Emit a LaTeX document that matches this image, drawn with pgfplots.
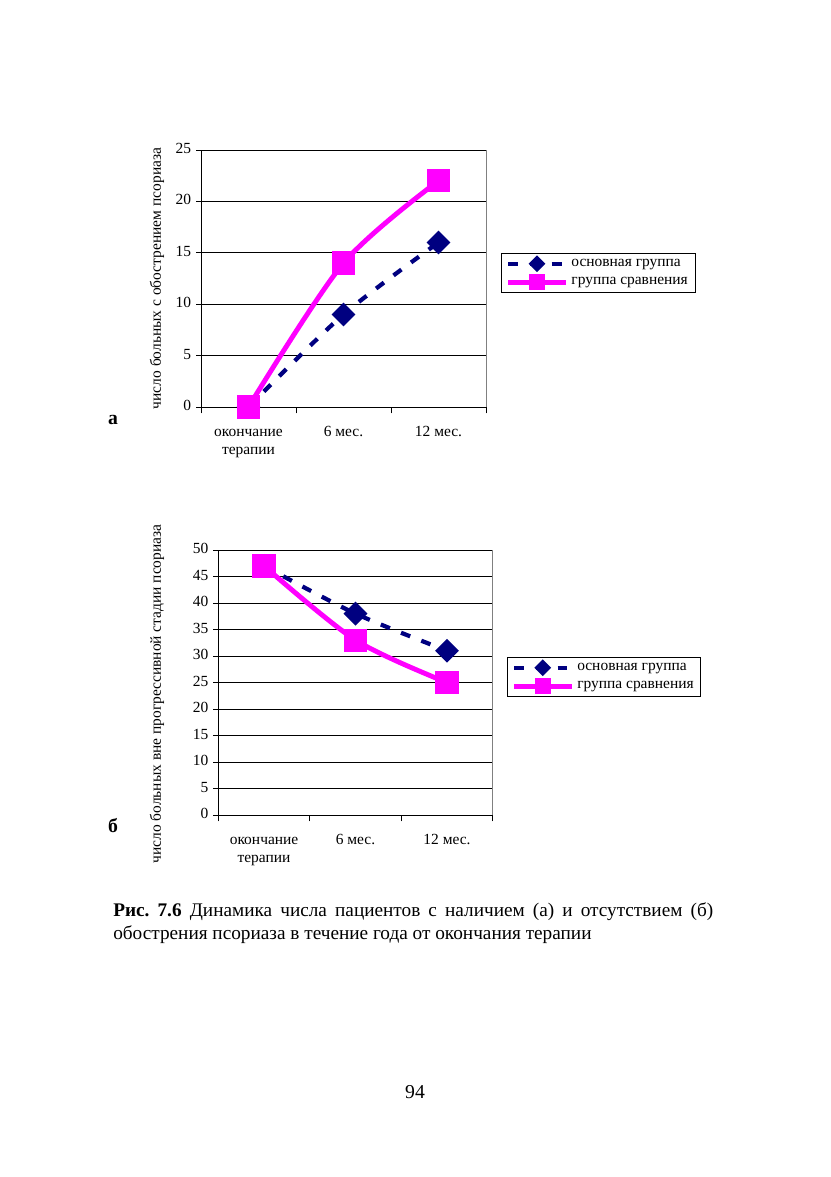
\documentclass[border=0pt]{standalone}
\usepackage{pgfplots}
\pgfplotsset{compat=1.18}
\usepackage{fontspec}
\setmainfont{Liberation Serif}

\definecolor{navyline}{HTML}{000080}
\definecolor{pinkline}{HTML}{FF00FF}

\newcommand{\chartfont}{\fontsize{11}{12.8}\selectfont}

% одинаковое оформление обоих графиков
\pgfplotsset{
  psor/.style={
    scale only axis,
    clip=false,
    xmin=0.5, xmax=3.5,
    ymin=0,
    axis lines=left,
    axis line style={-, black, line width=0.6pt},
    tick align=outside,
    xtick={1,2,3},
    xticklabels={{окончание\\терапии},{6 мес.},{12 мес.}},
    typeset ticklabels with strut,
    xticklabel style={align=center, font=\chartfont, yshift=-5pt},
    major x tick style={draw=none},
    minor xtick={0.5,1.5,2.5,3.5},
    minor x tick style={black, line width=0.6pt},
    minor tick length=4.5pt,
    major tick length=3.5pt,
    y tick style={black, line width=0.6pt},
    yticklabel style={font=\chartfont},
    /pgf/number format/assume math mode=true,
    ymajorgrids,
    major grid style={black, line width=0.5pt},
    legend style={anchor=north west, draw=black, line width=0.5pt,
      font=\chartfont, inner xsep=3pt, inner ysep=2pt, row sep=2.5pt,
      cells={anchor=west}},
    legend image code/.code={
      \draw[mark repeat=2, mark phase=2, #1, every mark/.append style={scale=0.6}]
        plot coordinates {(0cm,0cm) (0.72cm,0cm) (1.45cm,0cm)};
    },
  },
  osn/.style={navyline, line width=3pt, dash pattern=on 7pt off 8.5pt, smooth,
    mark=square*, mark size=4.5pt, mark options={solid, rotate=45, fill=navyline}},
  srav/.style={pinkline, line width=3.5pt, smooth,
    mark=square*, mark size=6.5pt, mark options={solid, fill=pinkline}},
}

\begin{document}
\frenchspacing
\begin{tikzpicture}
\path[use as bounding box] (0,0) rectangle (20.75cm,-29.425cm);

% график (а)
\begin{axis}[psor,
  at={(5.025cm,-10.175cm)}, anchor=south west,
  width=7.125cm, height=6.425cm,
  ymax=25, ytick={0,5,...,25},
  legend style={at={(1.053,0.599)}},
]
\addplot[osn] coordinates {(1,0) (2,9) (3,16)};
\addplot[srav] coordinates {(1,0) (2,14) (3,22)};
\legend{основная группа, группа сравнения}
\draw[gray, line width=0.5pt] (rel axis cs:1,0) -- (rel axis cs:1,1);
\end{axis}

% график (б)
\begin{axis}[psor,
  at={(5.4575cm,-20.375cm)}, anchor=south west,
  width=6.86cm, height=6.625cm,
  ymax=50, ytick={0,5,...,50},
  legend style={at={(1.052,0.596)}},
]
\addplot[osn] coordinates {(1,47) (2,38) (3,31)};
\addplot[srav] coordinates {(1,47) (2,33) (3,25)};
\legend{основная группа, группа сравнения}
\draw[gray, line width=0.5pt] (rel axis cs:1,0) -- (rel axis cs:1,1);
\end{axis}

\node[rotate=90, font=\chartfont] at (3.925cm,-6.9625cm)
  {число больных с обострением псориаза};
\node[rotate=90, font=\chartfont] at (3.925cm,-17.35cm)
  {число больных вне прогрессивной стадии псориаза};

\node[font=\fontsize{14}{16}\selectfont\bfseries] at (2.825cm,-10.5cm) {а};
\node[font=\fontsize{14}{16}\selectfont\bfseries] at (2.825cm,-20.65cm) {б};

\node[anchor=north west, inner sep=0pt, text width=15.0cm, align=justify,
  font=\fontsize{13.7}{16.8}\selectfont] at (2.825cm,-22.55cm)
  {\textbf{Рис. 7.6} Динамика числа пациентов с наличием (а) и отсутствием (б)
   обострения псориаза в течение года от окончания терапии};

\node[font=\fontsize{14}{16}\selectfont] at (10.375cm,-27.3cm) {94};
\end{tikzpicture}
\end{document}
